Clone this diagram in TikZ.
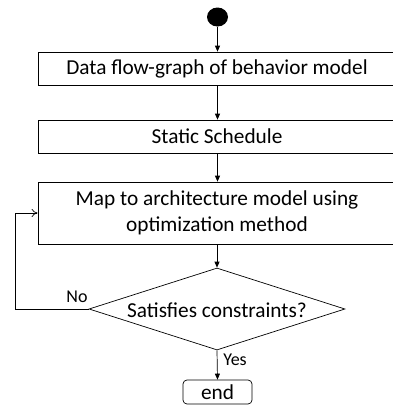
\documentclass[tikz,border=0pt]{standalone}
\usepackage{fontspec}
\setmainfont{Carlito}
\usetikzlibrary{arrows.meta,shapes.geometric}
\begin{document}
\begin{tikzpicture}[x=1pt,y=-1pt,
  every node/.style={font=\fontsize{21.3}{26}\selectfont},
  box/.style={draw,line width=0.7pt,minimum width=418pt,inner sep=0pt,align=center,xshift=30pt},
  arr/.style={line width=0.7pt,-{Triangle[width=5pt,length=6pt]}},
  open/.style={line width=0.7pt,-{To[width=8pt,length=6pt]}},
  lbl/.style={font=\fontsize{18}{22}\selectfont,inner sep=0pt}]
\useasboundingbox (0,0) rectangle (393,405);
\fill[white] (0,0) rectangle (393,405);
\clip (0,0) rectangle (393,405);
\node[fill=black,ellipse,minimum width=21pt,minimum height=19pt,inner sep=0pt] (start) at (217.5,17) {};
\node[box,minimum height=33pt] (b1) at (217,68.5) {\hspace*{-60pt}Data flow-graph of behavior model};
\node[box,minimum height=33pt] (b2) at (217,136.5) {\hspace*{-60pt}Static Schedule};
\node[box,minimum height=62pt] (b3) at (217,213) {\hspace*{-60pt}Map to architecture model using\\\hspace*{-60pt}optimization method};
\node[draw,line width=0.7pt,diamond,aspect=3.12,minimum width=256pt,minimum height=82pt,inner sep=0pt] (d) at (217,309) {};
\node at (217,310) {Satisfies constraints?};
\node[draw,line width=0.7pt,rounded corners=4pt,minimum width=69pt,minimum height=24pt,inner sep=0pt] (end) at (217.5,392) {end};
\coordinate (c1) at (15,309);
\coordinate (c2) at (15,213);
\draw[arr] (start) -- (b1.north -| start);
\draw[arr] (b1.south -| start) -- (b2.north -| start);
\draw[arr] (b2.south -| start) -- (b3.north -| start);
\draw[arr] (b3.south -| d.north) -- (d.north);
\draw[arr] (d.south) -- (end.north);
\draw[open] (d.west) -- (c1) -- (c2) -- (b3.west);
\node[lbl] (no) at (77,297) {No};
\node[lbl] (yes) at (235,360) {Yes};
\end{tikzpicture}
\end{document}
